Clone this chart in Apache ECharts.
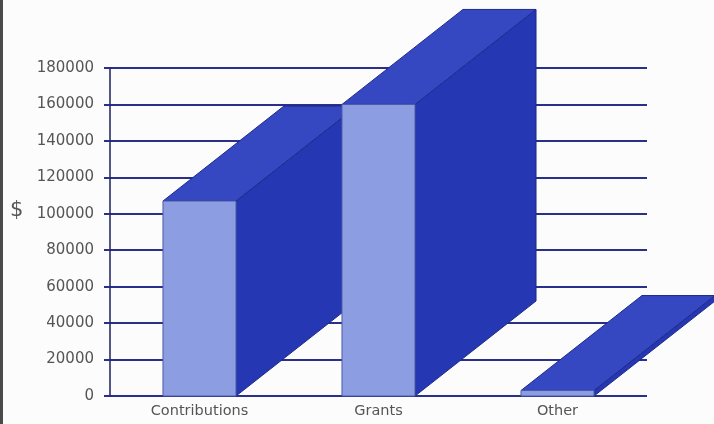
<!DOCTYPE html>
<html><head><meta charset="utf-8">
<script src="https://cdn.jsdelivr.net/npm/echarts@6/dist/echarts.min.js"></script>
<style>html,body{margin:0;padding:0;background:#fcfcfc}#c{width:714px;height:424px}</style>
</head><body><div id="c"></div>
<script>
const categories = ['Contributions', 'Grants', 'Other'];
const values = [107000, 160000, 3000];
const yTicks = [0, 20000, 40000, 60000, 80000, 100000, 120000, 140000, 160000, 180000];

const chart = echarts.init(document.getElementById('c'));
const DX = 121, DY = -95;
const stroke = '#1f2a8a';
chart.setOption({
  backgroundColor: '#fcfcfc',
  animation: false,
  grid: { left: 110, right: 67, top: 68, bottom: 28 },
  xAxis: {
    type: 'category', data: categories,
    axisLine: { show: false }, axisTick: { show: false },
    axisLabel: { color: '#555', fontFamily: 'DejaVu Sans', fontSize: 14.5, margin: 8 }
  },
  yAxis: {
    type: 'value', min: yTicks[0], max: yTicks[yTicks.length - 1], interval: 20000,
    axisLine: { show: true, lineStyle: { color: '#1c1f5e', width: 1.5 } },
    axisTick: { show: true, length: 6, lineStyle: { color: '#2a2f8a', width: 2 } },
    axisLabel: { color: '#555', fontFamily: 'DejaVu Sans', fontSize: 15, margin: 16,
      formatter: function (v) { return String(v); } },
    splitLine: { show: true, lineStyle: { color: '#2a2f8a', width: 2 } }
  },
  graphic: [
    { type: 'rect', left: 0, top: 0, shape: { width: 3, height: 424 }, style: { fill: '#4a4a4a' } },
    { type: 'text', left: 10, top: 200, style: { text: '$', fontSize: 21, fontFamily: 'DejaVu Sans', fill: '#555' } }
  ],
  series: [{
    type: 'custom',
    data: values.map((v, i) => [i, v]),
    renderItem: function (params, api) {
      const x = api.value(0), v = api.value(1);
      const base = api.coord([x, 0]);
      const top = api.coord([x, v]);
      const bw = api.size([1, 0])[0] * 0.408;
      const l = base[0] - bw / 2, r = base[0] + bw / 2;
      const ty = top[1], by = base[1];
      return {
        type: 'group',
        children: [
          { type: 'polygon', shape: { points: [[r, ty], [r + DX, ty + DY], [r + DX, by + DY], [r, by]] },
            style: { fill: '#2637b4', stroke: stroke, lineWidth: 1 } },
          { type: 'polygon', shape: { points: [[l, ty], [l + DX, ty + DY], [r + DX, ty + DY], [r, ty]] },
            style: { fill: '#3548c2', stroke: stroke, lineWidth: 1 } },
          { type: 'rect', shape: { x: l, y: ty, width: bw, height: by - ty },
            style: { fill: '#8d9de2', stroke: '#4b5aa8', lineWidth: 1 } }
        ]
      };
    }
  }]
});
</script></body></html>
